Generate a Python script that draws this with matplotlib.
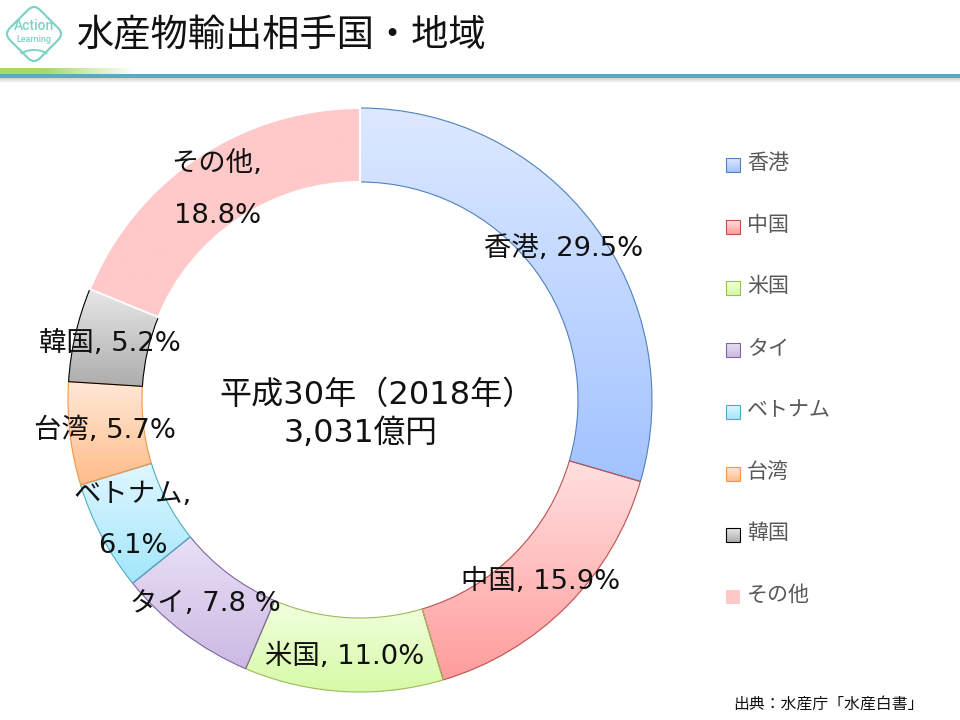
import numpy as np
import matplotlib
matplotlib.use('Agg')
import matplotlib.pyplot as plt
from matplotlib.colors import LinearSegmentedColormap, to_rgb
from matplotlib.patches import FancyBboxPatch, Rectangle, Arc
from matplotlib.transforms import Affine2D

# DejaVu digits are close to the wide latin of the original font
plt.rcParams['font.family'] = ['DejaVu Sans', 'Noto Sans CJK JP']

categories = ['香港', '中国', '米国', 'タイ', 'ベトナム', '台湾', '韓国', 'その他']
values = [29.5, 15.9, 11.0, 7.8, 6.1, 5.7, 5.2, 18.8]
top_colors = ['#DDE9FF', '#FFE0E0', '#F2FFE0', '#E9E0F6', '#E0F7FF', '#FFE8D8', '#E8E8E8', '#FFC9C9']
bottom_colors = ['#A2C3FF', '#FF9C9C', '#D6FAA6', '#CBB9E2', '#A2E6FC', '#FFBC88', '#ADADAD', '#FFC9C9']
edge_colors = ['#4F81BD', '#C0504D', '#9BBB59', '#8064A2', '#4BACC6', '#F79646', '#000000', '#FFFFFF']

title = '水産物輸出相手国・地域'
center_lines = ['平成30年（2018年）', '3,031億円']
source = '出典：水産庁「水産白書」'

# text, x, y in pixels
labels = [
    ('香港, 29.5%', 564, 249),
    ('中国, 15.9%', 541, 582),
    ('米国, 11.0%', 345, 657),
    ('タイ, 7.8 %', 205, 604),
    ('ベトナム,', 133, 495),
    ('6.1%', 133, 546),
    ('台湾, 5.7%', 105, 431),
    ('韓国, 5.2%', 110, 344),
    ('その他,', 217, 164),
    ('18.8%', 218, 216),
]
legend_y = [165, 227, 288, 350, 412, 474, 535, 597]

W, H = 960, 720
fig = plt.figure(figsize=(W / 100, H / 100), dpi=100)


def gradient(ax, c1, c2, extent, clip=None, zorder=1):
    cmap = LinearSegmentedColormap.from_list('g', [c1, c2])
    g = np.linspace(0, 1, 256).reshape(-1, 1)
    im = ax.imshow(g, cmap=cmap, extent=extent, origin='upper', aspect='auto',
                   interpolation='bilinear', zorder=zorder)
    if clip is not None:
        im.set_clip_path(clip)
    return im


# donut
ax = fig.add_axes([68 / W, (H - 692) / H, 584 / W, 584 / H])
wedges, _ = ax.pie(values, startangle=90, counterclock=False, radius=1,
                   wedgeprops=dict(width=74 / 292, linewidth=0.9))
for w, c1, c2, ec in zip(wedges, top_colors, bottom_colors, edge_colors):
    w.set_facecolor('none')
    w.set_edgecolor(ec)
    w.set_linewidth(1.5 if ec == '#FFFFFF' else 0.8)
    w.set_zorder(3 if ec == '#FFFFFF' else 2)
    bb = w.get_path().get_extents(w.get_patch_transform())
    gradient(ax, c1, c2, [bb.x0, bb.x1, bb.y0, bb.y1], clip=w)
ax.set_xlim(-1, 1)
ax.set_ylim(-1, 1)
ax.set_aspect('auto')
ax.axis('off')

# overlay in pixel coordinates
ov = fig.add_axes([0, 0, 1, 1], facecolor='none')

# header rule
glow = np.ones((1, 256, 4))
glow[0, :, :3] = to_rgb('#A6D96A')
glow[0, :, 3] = np.clip(1.5 * np.linspace(1, 0, 256), 0, 1)
ov.imshow(glow, extent=[0, 135, 78, 68], aspect='auto', zorder=1)
gradient(ov, '#C8C8C8', '#FFFFFF', [0, W, 83, 77], zorder=1)
ov.add_patch(Rectangle((0, 74), W, 4, color='#5DA9C2', lw=0, zorder=2))

# logo
teal = '#7FD3C5'
ov.add_patch(FancyBboxPatch((-15, -15), 30, 30, boxstyle='round,pad=0,rounding_size=6',
                            fc='white', ec=teal, lw=1.6, zorder=3,
                            transform=Affine2D().rotate_deg(45).scale(1.42).translate(34, 34) + ov.transData))
ov.add_patch(Arc((34, 63), 38, 26, theta1=215, theta2=325, ec=teal, lw=1.4, zorder=4))
ov.text(34, 26, 'Action', color=teal, fontsize=10, ha='center', va='center', zorder=4,
        family='Roboto', weight='medium')
ov.text(34, 39, 'Learning', color=teal, fontsize=6.5, ha='center', va='center', zorder=4,
        family='Roboto', weight='medium')

ov.text(77, 36, title, fontsize=26.8, color='#111111', ha='left', va='center', zorder=4,
        family=['Noto Sans CJK JP', 'DejaVu Sans'])

for text, x, y in labels:
    ov.text(x, y, text, fontsize=19.7, color='#111111', ha='center', va='center', zorder=5)

ov.text(377, 395, center_lines[0], fontsize=23.1, color='#111111', ha='center', va='center', zorder=5)
ov.text(360, 434, center_lines[1], fontsize=22.8, color='#111111', ha='center', va='center', zorder=5)

# legend
for name, y, c1, c2, ec in zip(categories, legend_y, top_colors, bottom_colors, edge_colors):
    gradient(ov, c1, c2, [725.5, 739.5, y + 7, y - 7], zorder=3)
    if ec != '#FFFFFF':
        ov.add_patch(Rectangle((725.5, y - 7), 14, 14, fc='none', ec=ec, lw=0.8, zorder=4))
    ov.text(747, y - 2, name, fontsize=15.1, color='#595959', ha='left', va='center', zorder=5)

ov.text(924, 704, source, fontsize=11.4, color='#111111', ha='right', va='center', zorder=5)

ov.set_xlim(0, W)
ov.set_ylim(H, 0)
ov.axis('off')

fig.savefig('out.png', dpi=100)
plt.close(fig)
